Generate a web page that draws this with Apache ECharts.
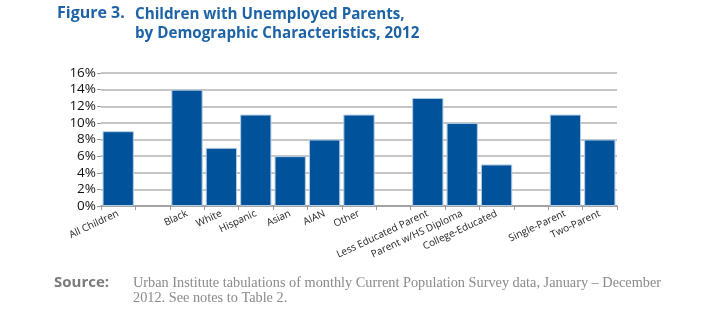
<!DOCTYPE html>
<html><head><meta charset="utf-8">
<script src="https://cdn.jsdelivr.net/npm/echarts@6/dist/echarts.min.js"></script>
<style>html,body{margin:0;padding:0;background:#fff}#c{width:714px;height:321px}</style>
</head><body><div id="c"></div>
<script>
const categories = ['All Children','','Black','White','Hispanic','Asian','AIAN','Other','','Less Educated Parent','Parent w/HS Diploma','College-Educated','','Single-Parent','Two-Parent'];
const values = [9,null,14,7,11,6,8,11,null,13,10,5,null,11,8];
const yTicks = [0,2,4,6,8,10,12,14,16];
const chart = echarts.init(document.getElementById('c'));
chart.setOption({
  animation:false,
  title:[
    {text:'Figure 3.',left:52,top:0,textStyle:{fontFamily:'Open Sans',fontWeight:'bold',fontSize:16,color:'#1d63a6'}},
    {text:'Children with Unemployed Parents,\nby Demographic Characteristics, 2012',left:130,top:0,textStyle:{fontFamily:'Open Sans',fontWeight:'bold',fontSize:15.2,color:'#1d63a6',lineHeight:19}},
    {text:'Source:',left:49,top:270,textStyle:{fontFamily:'Open Sans',fontWeight:'bold',fontSize:15,color:'#7a7a7a'}},
    {text:'Urban Institute tabulations of monthly Current Population Survey data, January – December\n2012. See notes to Table 2.',left:128,top:271,textStyle:{fontFamily:'Liberation Serif',fontWeight:'normal',fontSize:14.3,color:'#8a8a8a',lineHeight:15}}
  ],
  grid:{left:101,right:97,top:73,bottom:115,containLabel:false},
  xAxis:{type:'category',data:categories,
    axisLine:{lineStyle:{color:'#999',width:1.5}},
    axisTick:{show:true,length:4,lineStyle:{color:'#999'}},
    axisLabel:{interval:0,rotate:25,fontFamily:'Open Sans',fontSize:10,color:'#222',margin:7}},
  yAxis:{type:'value',min:0,max:16,interval:2,
    axisLine:{show:false},
    axisTick:{show:true,length:4,lineStyle:{color:'#999'}},
    splitLine:{lineStyle:{color:'#b3b3b3',width:1.5}},
    axisLabel:{formatter:v=>yTicks.includes(v)?v+'%':'',fontFamily:'Open Sans',fontSize:13.5,color:'#111',margin:5}},
  series:[{type:'bar',data:values,barCategoryGap:'9%',
    itemStyle:{color:'#00539b',borderColor:'#b5cde4',borderWidth:1}}]
});
</script></body></html>
